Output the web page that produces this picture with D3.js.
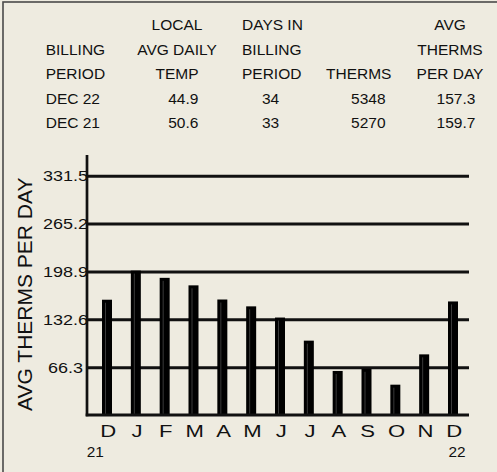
<!DOCTYPE html>
<html>
<head>
<meta charset="utf-8">
<script src="https://cdn.jsdelivr.net/npm/d3@7"></script>
<style>
  body { margin: 0; background: #eeebe0; }
  svg { display: block; font-family: "Liberation Sans", Arial, sans-serif; }
</style>
</head>
<body>
<svg id="chart"></svg>
<script>
// header table
let headerRows = [
  ["", "LOCAL", "DAYS IN", "", "AVG"],
  ["BILLING", "AVG DAILY", "BILLING", "", "THERMS"],
  ["PERIOD", "TEMP", "PERIOD", "THERMS", "PER DAY"]
];
let periods = ["DEC 22", "DEC 21"];
let temps = ["44.9", "50.6"];
let days = ["34", "33"];
let therms = ["5348", "5270"];
let avgPerDay = ["157.3", "159.7"];

// bar chart
let months = ["D", "J", "F", "M", "A", "M", "J", "J", "A", "S", "O", "N", "D"];
let values = [159.7, 200, 190, 179.6, 160, 150.5, 135, 103, 61, 64, 42, 84, 157.3];
let yTicks = [66.3, 132.6, 198.9, 265.2, 331.5];
let yearLabels = ["21", "22"];

let config = {
  svg: { width: 497, height: 472 },
  plot: { left: 87, right: 469, top: 175.7, bottom: 415, axisTop: 155 },
  table: { rows: [30, 54.5, 79, 104, 128] }
};

let svg = d3.select("svg#chart")
  .attr("width", config.svg.width)
  .attr("height", config.svg.height);

svg.append("rect")
  .attr("x", 3).attr("y", 2)
  .attr("width", 520).attr("height", 500)
  .attr("fill", "#eeebe0")
  .attr("stroke", "#4a4a4a")
  .attr("stroke-width", 1.6);

// ---- table ----
let headCols = [
  { x: 45.7, anchor: "start" },
  { x: 177, anchor: "middle" },
  { x: 242, anchor: "start" },
  { x: 326, anchor: "start" },
  { x: 450, anchor: "middle" }
];
let dataCols = [
  { x: 45.7, anchor: "start", vals: periods },
  { x: 183.3, anchor: "middle", vals: temps },
  { x: 270.5, anchor: "middle", vals: days },
  { x: 368.3, anchor: "middle", vals: therms },
  { x: 456, anchor: "middle", vals: avgPerDay }
];

let table = svg.append("g").attr("id", "table")
  .attr("font-size", "15.5px").attr("fill", "#111");

headerRows.forEach(function(row, r) {
  row.forEach(function(txt, c) {
    if (!txt) return;
    table.append("text")
      .attr("x", headCols[c].x)
      .attr("y", config.table.rows[r])
      .attr("text-anchor", headCols[c].anchor)
      .text(txt);
  });
});

dataCols.forEach(function(col) {
  col.vals.forEach(function(v, i) {
    table.append("text")
      .attr("x", col.x)
      .attr("y", config.table.rows[3 + i])
      .attr("text-anchor", col.anchor)
      .text(v);
  });
});

// ---- scales ----
let scale = {};
scale.x = d3.scalePoint()
  .domain(d3.range(months.length))
  .range([107, 453]);
scale.y = d3.scaleLinear()
  .domain([0, 331.5])
  .range([config.plot.bottom, config.plot.top]);

// gridlines + tick labels
let gy = svg.append("g")
  .attr("transform", translate(config.plot.left, 0))
  .call(d3.axisLeft(scale.y)
    .tickValues(yTicks)
    .tickFormat(d => d.toFixed(1))
    .tickSize(-(config.plot.right - config.plot.left)));
gy.select(".domain").remove();
gy.selectAll(".tick line")
  .attr("stroke", "#111")
  .attr("stroke-width", 3);
gy.selectAll(".tick text")
  .attr("x", null)
  .attr("dy", null)
  .attr("text-anchor", "middle")
  .attr("transform", "translate(-21.5,5) scale(1.2,1)")
  .attr("font-family", null)
  .attr("font-size", "15px")
  .attr("fill", "#111");

// bars
let barW = 10;
let bars = svg.append("g").attr("id", "bars");
bars.selectAll("rect")
  .data(values)
  .join("rect")
  .attr("x", (d, i) => scale.x(i) - barW / 2)
  .attr("y", d => scale.y(d))
  .attr("width", barW)
  .attr("height", d => scale.y(0) - scale.y(d))
  .attr("fill", "#000");
bars.selectAll("line")
  .data(values)
  .join("line")
  .attr("x1", (d, i) => scale.x(i) - 1.5)
  .attr("x2", (d, i) => scale.x(i) - 1.5)
  .attr("y1", d => scale.y(d) + 3)
  .attr("y2", scale.y(0))
  .attr("stroke", "#3a3a3a")
  .attr("stroke-width", 1);

// axes lines
svg.append("line")
  .attr("x1", config.plot.left).attr("x2", config.plot.left)
  .attr("y1", config.plot.axisTop).attr("y2", config.plot.bottom + 1.3)
  .attr("stroke", "#111").attr("stroke-width", 2.7);
svg.append("line")
  .attr("x1", config.plot.left - 1.3).attr("x2", config.plot.right)
  .attr("y1", config.plot.bottom).attr("y2", config.plot.bottom)
  .attr("stroke", "#111").attr("stroke-width", 3);

// month labels
let gx = svg.append("g")
  .attr("transform", translate(0, config.plot.bottom))
  .call(d3.axisBottom(scale.x).tickSize(0).tickFormat(i => months[i]));
gx.select(".domain").remove();
gx.selectAll(".tick text")
  .attr("y", null)
  .attr("dy", null)
  .attr("transform", "translate(0.7,22.3) scale(1.3,1)")
  .attr("font-family", null)
  .attr("font-size", "17px")
  .attr("fill", "#111");

// year labels under first and last month
svg.selectAll("text.year")
  .data(yearLabels)
  .join("text")
  .attr("class", "year")
  .attr("text-anchor", "middle")
  .attr("transform", (d, i) => translate(i === 0 ? scale.x(0) - 11.7 : scale.x(months.length - 1) + 4, 456.7) + " scale(1.1,1)")
  .attr("font-size", "14px")
  .attr("fill", "#111")
  .text(d => d);

// y title
svg.append("text")
  .attr("transform", translate(32.3, 294.2) + " rotate(-90)")
  .attr("text-anchor", "middle")
  .attr("font-size", "21px")
  .attr("fill", "#111")
  .text("AVG THERMS PER DAY");

function translate(x, y) {
  return "translate(" + x + "," + y + ")";
}
</script>
</body>
</html>
